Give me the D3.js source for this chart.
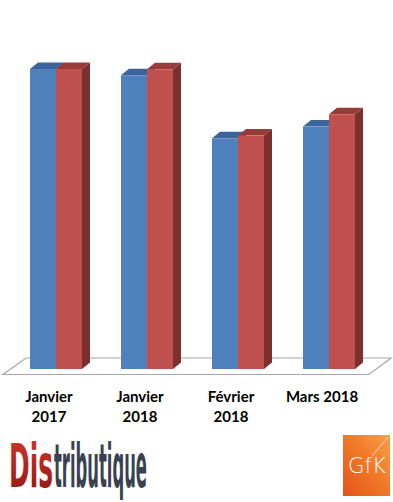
<!DOCTYPE html>
<html>
<head>
<meta charset="utf-8">
<script src="https://cdn.jsdelivr.net/npm/d3@7"></script>
<style>
  body { margin: 0; background: #fff; }
  svg { display: block; }
</style>
</head>
<body>
<div id="chart"></div>
<script>
// Données (pas d'axe : valeurs relatives, Janvier 2017 = 100)
const categories = ['Janvier 2017', 'Janvier 2018', 'Février 2018', 'Mars 2018'];
const labelLines = [['Janvier', '2017'], ['Janvier', '2018'], ['Février', '2018'], ['Mars 2018']];
const series = ['bleu', 'rouge'];
const blueValues = [100, 97.9, 76.9, 80.8];
const redValues = [100, 99.9, 77.8, 84.9];

const width = 393, height = 502;
const baseY = 369;       // bas des barres
const dx = 8, dy = 6.5;  // profondeur 3D

const colors = {
  bleu:  { front: '#4f81bd', top: '#3b659a', side: '#345a88' },
  rouge: { front: '#c0504d', top: '#973c39', side: '#7c302e' }
};

const svg = d3.select('#chart').append('svg')
  .attr('width', width).attr('height', height);

const x = d3.scaleBand()
  .domain(categories)
  .range([10.5, 374.5])
  .paddingInner(39 / 91)
  .paddingOuter(19.5 / 91);

const xs = d3.scaleBand().domain(series).range([0, x.bandwidth()]);

const y = d3.scaleLinear().domain([0, 100]).range([baseY, baseY - 300]);

// Plancher 3D
svg.append('polygon')
  .attr('points', [[3, 374.5], [26, 358], [391, 358], [369, 374.5]].map(p => p.join(',')).join(' '))
  .style('fill', '#fff')
  .style('stroke', '#a6a6a6')
  .style('stroke-width', 1.2);

const data = categories.map((c, i) => ({ cat: c, values: [
  { s: 'bleu', v: blueValues[i] },
  { s: 'rouge', v: redValues[i] }
]}));

const groups = svg.selectAll('g.groupe').data(data).join('g')
  .attr('class', 'groupe')
  .attr('transform', d => `translate(${x(d.cat)},0)`);

groups.each(function(d) {
  const g = d3.select(this);
  d.values.forEach(b => {
    const x0 = xs(b.s), x1 = x0 + xs.bandwidth();
    const yt = y(b.v);
    const c = colors[b.s];
    // côté droit
    g.append('polygon')
      .attr('points', [[x1, yt], [x1 + dx, yt - dy], [x1 + dx, baseY - dy], [x1, baseY]].map(p => p.join(',')).join(' '))
      .style('fill', c.side);
    // dessus
    g.append('polygon')
      .attr('points', [[x0, yt], [x0 + dx, yt - dy], [x1 + dx, yt - dy], [x1, yt]].map(p => p.join(',')).join(' '))
      .style('fill', c.top);
    // face avant
    g.append('rect')
      .attr('x', x0).attr('y', yt)
      .attr('width', xs.bandwidth()).attr('height', baseY - yt)
      .style('fill', c.front);
  });
});

// Libellés des catégories
categories.forEach((c, i) => {
  const cx = x(c) + x.bandwidth() / 2 - 7;
  labelLines[i].forEach((line, j) => {
    svg.append('text')
      .attr('x', cx).attr('y', 402 + j * 20)
      .attr('text-anchor', 'middle')
      .style('font-family', 'Lato, "Open Sans", sans-serif')
      .style('font-weight', 700)
      .style('font-size', '15px')
      .style('fill', '#000')
      .text(line);
  });
});

// Texte étiré horizontalement par une échelle (au lieu de textLength)
function fitText(sel, x0, y0, targetWidth, anchor) {
  const w = sel.node().getComputedTextLength();
  const sx = targetWidth / w;
  const left = anchor === 'middle' ? x0 - targetWidth / 2 : x0;
  sel.attr('x', 0).attr('y', 0).attr('text-anchor', 'start')
    .attr('transform', `translate(${left},${y0}) scale(${sx},1)`);
}

// Logo Distributique
const defs = svg.append('defs');
const redGrad = defs.append('linearGradient').attr('id', 'disGrad')
  .attr('x1', 0).attr('y1', 0).attr('x2', 0).attr('y2', 1);
redGrad.append('stop').attr('offset', '0%').attr('stop-color', '#d23a2a');
redGrad.append('stop').attr('offset', '100%').attr('stop-color', '#8e1410');

const logoFont = '"Liberation Sans Narrow", "DejaVu Sans Condensed", sans-serif';
const dis = svg.append('text')
  .style('font-family', logoFont)
  .style('font-weight', 700)
  .style('font-size', '61px')
  .style('fill', 'url(#disGrad)')
  .text('Dis');
fitText(dis, 9, 487, 44);
const tri = svg.append('text')
  .style('font-family', logoFont)
  .style('font-weight', 700)
  .style('font-size', '61px')
  .style('fill', '#3a4150')
  .text('tributique');
fitText(tri, 54, 487, 93);

// Logo GfK
const gfkGrad = defs.append('linearGradient').attr('id', 'gfkGrad')
  .attr('x1', 1).attr('y1', 0).attr('x2', 0).attr('y2', 1);
gfkGrad.append('stop').attr('offset', '0%').attr('stop-color', '#f7a04a');
gfkGrad.append('stop').attr('offset', '45%').attr('stop-color', '#f07a2a');
gfkGrad.append('stop').attr('offset', '100%').attr('stop-color', '#e4531a');

svg.append('rect')
  .attr('x', 343).attr('y', 435).attr('width', 47).attr('height', 61)
  .style('fill', 'url(#gfkGrad)');
svg.append('line')
  .attr('x1', 388).attr('y1', 437).attr('x2', 372).attr('y2', 456)
  .style('stroke', '#fff').style('stroke-width', 0.8).style('opacity', 0.8);
const gfk = svg.append('text')
  .style('font-family', '"DejaVu Sans", sans-serif')
  .style('font-weight', 300)
  .style('font-size', '22px')
  .style('fill', '#fff')
  .text('GfK');
fitText(gfk, 367, 473, 38, 'middle');
</script>
</body>
</html>
